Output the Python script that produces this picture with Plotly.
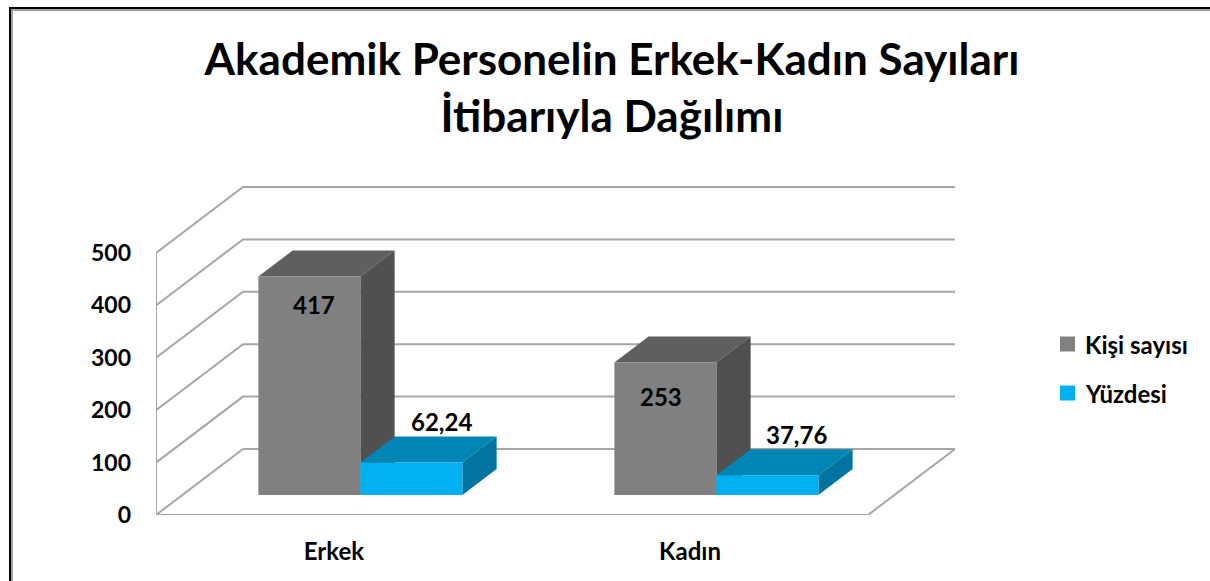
import plotly.graph_objects as go

# ---- data ----
categories = ["Erkek", "Kadın"]
series_names = ["Kişi sayısı", "Yüzdesi"]
kisi_sayisi = [417, 253]
yuzdesi = [62.24, 37.76]
label_kisi = ["417", "253"]
label_yuzde = ["62,24", "37,76"]
tick_values = [0, 100, 200, 300, 400, 500]
title_text = "Akademik Personelin Erkek-Kadın Sayıları<br>İtibarıyla Dağılımı"

# ---- style / layout ----
W, H = 1210, 581
L, R, T, B = 156, 955, 186, 515      # plot area in pixels
PX_PER_SLOT = 356.0
PX_PER_VALUE = 0.524
DEPTH_X = 87 / PX_PER_SLOT           # oblique offset of the full floor depth, in x units
DEPTH_Y = 66 / PX_PER_VALUE          # ... and in value units
D_FRONT, D_BACK = 0.303, 0.697       # bar depth as fraction of floor depth
BAR_W = 102 / PX_PER_SLOT
BAR_GAP = 76 / PX_PER_SLOT
GRID = "#a6a6a6"
FONT = "Lato"
COLORS = [
    dict(front="#808080", top="#5f5f5f", side="#505050"),
    dict(front="#00b0f0", top="#0085b5", side="#0073a0"),
]

fig = go.Figure()


def proj(x, v, d):
    return x + d * DEPTH_X, v + d * DEPTH_Y


def poly(points, color):
    xs = [p[0] for p in points] + [points[0][0]]
    ys = [p[1] for p in points] + [points[0][1]]
    fig.add_trace(go.Scatter(x=xs, y=ys, mode="lines", fill="toself", fillcolor=color,
                             line=dict(width=0, color=color), hoverinfo="skip", showlegend=False))


def line(points):
    fig.add_trace(go.Scatter(x=[p[0] for p in points], y=[p[1] for p in points], mode="lines",
                             line=dict(width=2, color=GRID), hoverinfo="skip", showlegend=False,
                             cliponaxis=False))


# walls and gridlines
n = len(categories)
for v in tick_values:
    if v == 0:
        continue
    line([proj(0, v, 0), proj(0, v, 1), proj(n, v, 1)])
line([proj(0, 500, 0), proj(0, 0, 0)])
line([proj(0, 0, 1), proj(0, 0, 0), proj(n, 0, 0), proj(n, 0, 1), proj(0, 0, 1)])

# bars
for i in range(n):
    for s, values in enumerate([kisi_sayisi, yuzdesi]):
        v = values[i]
        x0 = i + BAR_GAP + s * BAR_W
        x1 = x0 + BAR_W
        c = COLORS[s]
        poly([proj(x0, v, D_FRONT), proj(x1, v, D_FRONT), proj(x1, v, D_BACK), proj(x0, v, D_BACK)], c["top"])
        poly([proj(x1, 0, D_FRONT), proj(x1, v, D_FRONT), proj(x1, v, D_BACK), proj(x1, 0, D_BACK)], c["side"])
        poly([proj(x0, 0, D_FRONT), proj(x1, 0, D_FRONT), proj(x1, v, D_FRONT), proj(x0, v, D_FRONT)], c["front"])

# data labels, anchored on the bars
annotations = []
label_font = dict(family=FONT, size=24, color="black", weight=700)
kisi_shift = [(5, -28), (-4, -34)]
yuzde_shift = [(-4, 15), (-5, 15)]
for i in range(n):
    x0 = i + BAR_GAP
    x, y = proj(x0 + BAR_W / 2, kisi_sayisi[i], D_FRONT)
    annotations.append(dict(x=x, y=y, xref="x", yref="y", text=label_kisi[i], showarrow=False,
                            font=label_font, xshift=kisi_shift[i][0], yshift=kisi_shift[i][1]))
    x, y = proj(x0 + BAR_W * 1.5, yuzdesi[i], D_BACK)
    annotations.append(dict(x=x, y=y, xref="x", yref="y", text=label_yuzde[i], showarrow=False,
                            font=label_font, xshift=yuzde_shift[i][0], yshift=yuzde_shift[i][1]))


def px(x):
    return (x - L) / (R - L)


def py(y):
    return (B - y) / (B - T)


# hand-placed legend
legend_rows = [(344, COLORS[0]["front"]), (393, COLORS[1]["front"])]
shapes = []
for (yc, col), name in zip(legend_rows, series_names):
    shapes.append(dict(type="rect", xref="paper", yref="paper", x0=px(1060), x1=px(1075),
                       y0=py(yc + 7.5), y1=py(yc - 7.5), fillcolor=col, line=dict(width=0)))
    annotations.append(dict(x=px(1083), y=py(yc), xref="paper", yref="paper", text=name, showarrow=False,
                            xanchor="left", yanchor="middle", font=label_font))

# picture frame (left and top only)
for (x0, y0, x1, y1, col) in [(11, 9, 13, 581, "#a0a0a0"), (11, 9, 1210, 11, "#a0a0a0"),
                              (9, 7, 11, 581, "#000000"), (9, 7, 1210, 9, "#000000")]:
    shapes.append(dict(type="rect", xref="paper", yref="paper", x0=px(x0), x1=px(x1),
                       y0=py(y1), y1=py(y0), fillcolor=col, line=dict(width=0), layer="below"))

fig.update_layout(
    width=W, height=H, autosize=False,
    margin=dict(l=L, r=W - R, t=T, b=H - B, pad=0),
    paper_bgcolor="white", plot_bgcolor="white", showlegend=False,
    title=dict(text=title_text, x=612 / W, xanchor="center", xref="container",
               y=1 - 75 / H, yanchor="top", yref="container",
               font=dict(family=FONT, size=44, color="black", weight=700)),
    xaxis=dict(range=[0, (R - L) / PX_PER_SLOT], tickmode="array", tickvals=[i + 0.5 for i in range(n)],
               ticktext=categories, showgrid=False, zeroline=False, showline=False, ticks="",
               ticklabelstandoff=20, tickfont=dict(family=FONT, size=24, color="black", weight=700)),
    yaxis=dict(range=[0, (B - T) / PX_PER_VALUE], tickmode="array", tickvals=tick_values,
               showgrid=False, zeroline=False, showline=False, ticks="",
               ticklabelstandoff=24, tickfont=dict(family=FONT, size=23, color="black", weight=700)),
    annotations=annotations, shapes=shapes, hovermode=False,
)

fig.write_html("out.html", config=dict(displayModeBar=False),
               post_script="document.body.style.margin='0';document.body.style.overflow='hidden';")
